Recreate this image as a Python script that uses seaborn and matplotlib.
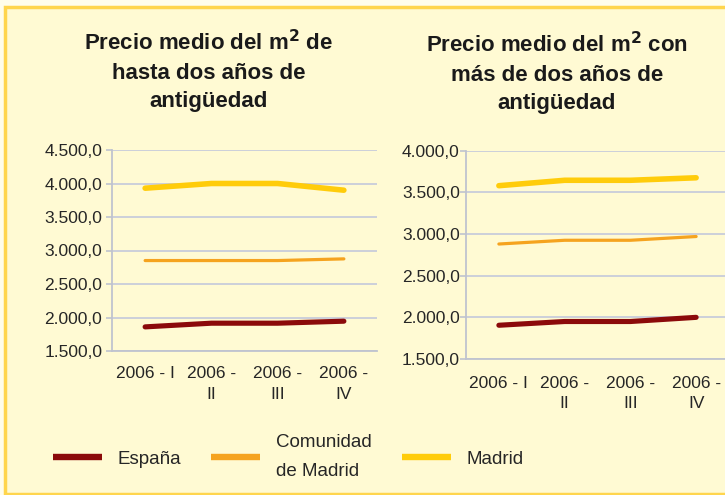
import pandas as pd
import seaborn as sns
import matplotlib.pyplot as plt
from matplotlib.ticker import FuncFormatter, FixedLocator
from matplotlib.patches import Rectangle
from matplotlib.lines import Line2D

# Data
trimestres = ['2006 - I', '2006 -\nII', '2006 -\nIII', '2006 -\nIV']
series = ['España', 'Comunidad de Madrid', 'Madrid']

# Precio medio del m2 de hasta dos años de antigüedad
nueva_espana = [1860, 1915, 1915, 1945]
nueva_comunidad = [2850, 2850, 2850, 2875]
nueva_madrid = [3930, 4000, 4000, 3900]

# Precio medio del m2 con más de dos años de antigüedad
usada_espana = [1905, 1950, 1950, 2000]
usada_comunidad = [2880, 2925, 2925, 2970]
usada_madrid = [3580, 3645, 3645, 3675]

colores = {'España': '#8B0A0A', 'Comunidad de Madrid': '#F5A31F', 'Madrid': '#FFCC0A'}
grosores = {'España': 3.7, 'Comunidad de Madrid': 2.3, 'Madrid': 4.0}


def tabla(espana, comunidad, madrid):
    filas = []
    for serie, vals in zip(series, [espana, comunidad, madrid]):
        for i, v in enumerate(vals):
            filas.append({'trimestre': i, 'serie': serie, 'precio': v})
    return pd.DataFrame(filas)


nueva = tabla(nueva_espana, nueva_comunidad, nueva_madrid)
usada = tabla(usada_espana, usada_comunidad, usada_madrid)

# Styling
sns.set_style('white')
plt.rcParams['font.family'] = ['Liberation Sans', 'DejaVu Sans']

fondo = '#FFFAD3'
fig = plt.figure(figsize=(7.25, 4.95), dpi=100, facecolor='#FFFDEB')
marco = Rectangle((5 / 725, 1.5 / 495), 1.0, 1 - 8.5 / 495,
                  transform=fig.transFigure, facecolor=fondo,
                  edgecolor='#FFD54D', linewidth=2.5, zorder=-10)
fig.patches.append(marco)

ax1 = fig.add_axes([112 / 725, 1 - 351 / 495, 265 / 725, 201 / 495])
ax2 = fig.add_axes([466 / 725, 1 - 359 / 495, 263 / 725, 208.3 / 495])

fmt = FuncFormatter(lambda v, p: f'{v:,.1f}'.replace(',', 'X').replace('.', ',').replace('X', '.'))

for ax, datos, ylim, xpad, ypad in [(ax1, nueva, (1500, 4500), 11, 3),
                                    (ax2, usada, (1500, 4000), 12, 0.5)]:
    sns.lineplot(data=datos, x='trimestre', y='precio', hue='serie', size='serie',
                 palette=colores, sizes=grosores, hue_order=series, size_order=series,
                 legend=False, ax=ax, solid_capstyle='round')
    ax.set_facecolor('none')
    ax.set_xlim(-0.5, 3.5)
    ax.set_ylim(*ylim)
    ax.yaxis.set_major_locator(FixedLocator(range(ylim[0], ylim[1] + 1, 500)))
    ax.yaxis.set_major_formatter(fmt)
    ax.set_xticks(range(4))
    ax.set_xticklabels(trimestres)
    ax.set_xticks([-0.5, 0.5, 1.5, 2.5, 3.5], minor=True)
    ax.tick_params(axis='x', which='major', length=0, pad=xpad, labelsize=12.5, labelcolor='#262626')
    ax.tick_params(axis='x', which='minor', length=4.5, width=1.2, color='#BFC3CF', direction='out')
    ax.tick_params(axis='y', length=4, width=1.2, color='#BFC3CF', pad=ypad,
                   labelsize=12.5, labelcolor='#262626', left=True)
    ax.grid(axis='y', color='#C8CCDA', linewidth=1.3)
    ax.set_axisbelow(True)
    ax.set_xlabel('')
    ax.set_ylabel('')
    for s in ['top', 'right']:
        ax.spines[s].set_visible(False)
    for s in ['left', 'bottom']:
        ax.spines[s].set_color('#BFC3CF')
        ax.spines[s].set_linewidth(1.3)
    plt.setp(ax.get_xticklabels(), linespacing=1.45, va='top')

# Titles
fig.text(209 / 725, 1 - 71 / 495,
         'Precio medio del m$^\\mathbf{2}$ de\nhasta dos años de\nantigüedad',
         ha='center', va='center', fontsize=16, fontweight='bold', color='#1A1A1A',
         linespacing=1.45)
fig.text(557 / 725, 1 - 73 / 495,
         'Precio medio del m$^\\mathbf{2}$ con\nmás de dos años de\nantigüedad',
         ha='center', va='center', fontsize=16, fontweight='bold', color='#1A1A1A',
         linespacing=1.45)

# Legend
handles = [Line2D([], [], color=colores[s], linewidth=4.6, solid_capstyle='butt') for s in series]
leg = fig.legend(handles, ['España', 'Comunidad\nde Madrid', 'Madrid'], ncol=3,
                 loc='center left', bbox_to_anchor=(53 / 725, 1 - 457 / 495),
                 frameon=False, borderpad=0, borderaxespad=0,
                 handlelength=2.6, handletextpad=0.85, columnspacing=1.6,
                 prop={'size': 13.5})
for t in leg.get_texts():
    t.set_color('#262626')
leg.get_texts()[1].set_linespacing(1.85)

plt.savefig('out.png', dpi=100, facecolor=fig.get_facecolor())
